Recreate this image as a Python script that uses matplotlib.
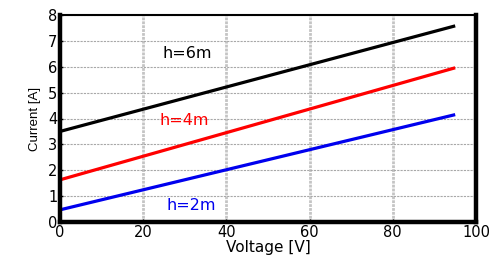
import numpy as np
import matplotlib
matplotlib.use('Agg')
import matplotlib.pyplot as plt

plt.rcParams['font.family'] = ['DejaVu Sans']

voltage = [0, 95]
i_6m = [3.5, 7.58]
i_4m = [1.63, 5.96]
i_2m = [0.47, 4.15]
labels = ['h=6m', 'h=4m', 'h=2m']
colors = ['black', 'red', '#0000ee']
label_pos = [(24.7, 6.5), (24.0, 3.92), (25.5, 0.62)]

fig = plt.figure(figsize=(4.91, 2.59), dpi=100)
ax = fig.add_axes([60/491, 1 - 222/259, 416/491, 207/259])

for y, c in zip([i_6m, i_4m, i_2m], colors):
    ax.plot(voltage, y, '-', color=c, lw=2.3, solid_capstyle='butt')

for (lx, ly), t, c in zip(label_pos, labels, colors):
    ax.text(lx, ly, t, color=c, fontsize=11.5, va='center', ha='left')

ax.set_xlim(0, 100)
ax.set_ylim(0, 8)
ax.set_xticks([0, 20, 40, 60, 80, 100])
ax.set_yticks(range(9))
ax.xaxis.grid(True, color='#c4c4c4', lw=2.0, ls=(0, (1, 0.4)))
ax.yaxis.grid(True, color='#a8a8a8', lw=0.8, ls=(0, (2, 1)))
ax.set_axisbelow(True)
ax.tick_params(direction='in', length=2, width=1, labelsize=10.5, pad=2)
for s in ['left', 'bottom', 'right']:
    ax.spines[s].set_linewidth(3.2)
ax.spines['top'].set_linewidth(1.5)

ax.set_xlabel('Voltage [V]', fontsize=11, labelpad=0)
ax.set_ylabel('Current [A]', fontsize=9.5, labelpad=5, family='Liberation Sans')

fig.savefig('out.png', dpi=100)
